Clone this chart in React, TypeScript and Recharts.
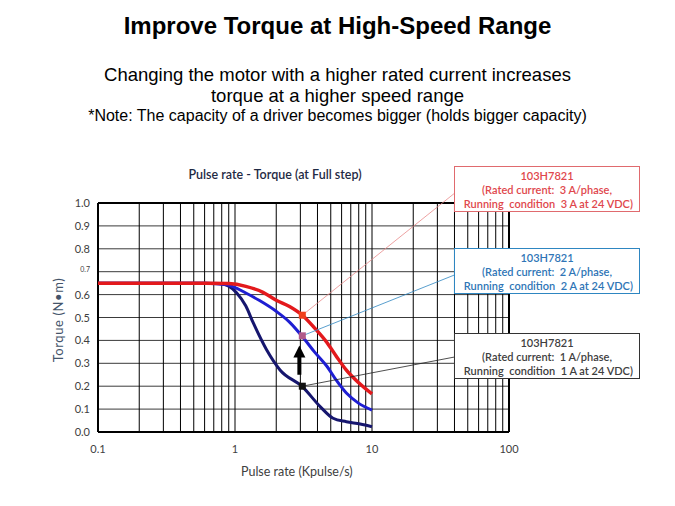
import { ComposedChart, Line, XAxis, YAxis, ReferenceLine, ReferenceDot } from 'recharts';

// axis ticks and grid values
const xTicks = [0.1, 1, 10, 100];
const yTicks = [0, 0.1, 0.2, 0.3, 0.4, 0.5, 0.6, 0.7, 0.8, 0.9, 1.0];
const xMinorGrid = [0.2, 0.3, 0.4, 0.5, 0.6, 0.7, 0.8, 0.9, 1, 2, 3, 4, 5, 6, 7, 8, 9, 10, 20, 30, 40, 50, 60, 70, 80, 90];
const yGrid = [0.1, 0.2, 0.3, 0.4, 0.5, 0.6, 0.7, 0.8, 0.9];

// pulse rate (kpulse/s) vs torque (N·m)
const torque3A = [
  { x: 0.1, y: 0.65 }, { x: 0.3, y: 0.65 }, { x: 0.6, y: 0.65 }, { x: 0.9, y: 0.648 },
  { x: 1.2, y: 0.636 }, { x: 1.6, y: 0.61 }, { x: 2.0, y: 0.575 }, { x: 2.5, y: 0.548 },
  { x: 3.1, y: 0.51 }, { x: 3.8, y: 0.455 }, { x: 4.7, y: 0.39 }, { x: 5.5, y: 0.33 },
  { x: 6.5, y: 0.27 }, { x: 8, y: 0.215 }, { x: 10, y: 0.166 },
];
const torque2A = [
  { x: 0.1, y: 0.65 }, { x: 0.3, y: 0.65 }, { x: 0.6, y: 0.65 }, { x: 0.87, y: 0.643 },
  { x: 1.2, y: 0.607 }, { x: 1.5, y: 0.575 }, { x: 2.0, y: 0.527 }, { x: 2.5, y: 0.48 },
  { x: 3.1, y: 0.417 }, { x: 3.8, y: 0.35 }, { x: 4.7, y: 0.286 }, { x: 5.5, y: 0.225 },
  { x: 6.5, y: 0.17 }, { x: 8, y: 0.125 }, { x: 10, y: 0.096 },
];
const torque1A = [
  { x: 0.1, y: 0.65 }, { x: 0.3, y: 0.65 }, { x: 0.6, y: 0.65 }, { x: 0.78, y: 0.648 },
  { x: 1.03, y: 0.607 }, { x: 1.2, y: 0.55 }, { x: 1.36, y: 0.476 }, { x: 1.7, y: 0.359 },
  { x: 2.13, y: 0.271 }, { x: 3.1, y: 0.198 }, { x: 4.2, y: 0.11 }, { x: 5.2, y: 0.06 },
  { x: 6.5, y: 0.045 }, { x: 8.2, y: 0.035 }, { x: 10, y: 0.023 },
];

const markers = [
  { x: 3.1, y: 0.51, fill: '#f0401c' },
  { x: 3.1, y: 0.42, fill: '#b05a8a' },
  { x: 3.1, y: 0.2, fill: '#111111' },
];

const leaders = [
  { from: { x: 3.1, y: 0.51 }, to: { x: 40.5, y: 1.045 }, stroke: '#e88a8a' },
  { from: { x: 3.1, y: 0.42 }, to: { x: 40.5, y: 0.687 }, stroke: '#2e86c1' },
  { from: { x: 3.1, y: 0.2 }, to: { x: 40.5, y: 0.328 }, stroke: '#222222' },
];

const boxes = [
  { top: 166, current: 3, color: '#e0474c', border: '#e06a6e' },
  { top: 248, current: 2, color: '#2e75b6', border: '#2e86c1' },
  { top: 333, current: 1, color: '#404040', border: '#333333' },
];

const YTick = ({ x, y, payload }: any) => (
  <text x={x} y={y} dy={payload.value === 0.7 ? 0 : 4} textAnchor="end"
    fontSize={payload.value === 0.7 ? 7 : 11} fill="#404040" fontFamily="Lato, sans-serif">
    {payload.value.toFixed(1)}
  </text>
);

const XTick = ({ x, y, payload }: any) => (
  <text x={x} y={y} dy={13} textAnchor="middle" fontSize={11} fill="#404040" fontFamily="Lato, sans-serif">
    {payload.value}
  </text>
);

const Square = ({ cx, cy, color }: any) => <rect x={cx - 3.5} y={cy - 3.5} width={7} height={7} fill={color} />;

const ArrowHead = ({ cx, cy }: any) => (
  <polygon points={`${cx},${cy} ${cx - 6},${cy + 12} ${cx + 6},${cy + 12}`} fill="#000" />
);

export default function App() {
  return (
    <div style={{ position: 'absolute', left: 0, top: 0, width: 675, height: 506, background: '#fff', fontFamily: '"Liberation Sans", Arial, sans-serif', color: '#000' }}>
      <div style={{ position: 'absolute', top: 12, width: 675, textAlign: 'center', fontSize: 24, fontWeight: 'bold' }}>
        Improve Torque at High-Speed Range
      </div>
      <div style={{ position: 'absolute', top: 64, width: 675, textAlign: 'center', fontSize: 18.5, lineHeight: '21px' }}>
        Changing the motor with a higher rated current increases<br />torque at a higher speed range
      </div>
      <div style={{ position: 'absolute', top: 107, width: 675, textAlign: 'center', fontSize: 16 }}>
        *Note: The capacity of a driver becomes bigger (holds bigger capacity)
      </div>
      <div style={{ position: 'absolute', top: 167, left: 98, width: 354, textAlign: 'center', fontSize: 12.5, fontWeight: 600, color: '#1f2a44', fontFamily: 'Lato, sans-serif' }}>
        Pulse rate - Torque (at Full step)
      </div>

      <ComposedChart width={675} height={506} margin={{ top: 203, right: 166, bottom: 44, left: 58 }}>
        <XAxis dataKey="x" type="number" scale="log" domain={[0.1, 100]} ticks={xTicks} interval={0} allowDataOverflow
          axisLine={false} tickLine={false} tick={<XTick />} height={30} />
        <YAxis type="number" domain={[0, 1]} ticks={yTicks} interval={0} allowDataOverflow
          axisLine={false} tickLine={false} tick={<YTick />} width={40} />
        {yGrid.map((v) => (
          <ReferenceLine key={'h' + v} y={v} stroke="#3a3a3a" strokeWidth={1} />
        ))}
        {xMinorGrid.map((v) => (
          <ReferenceLine key={'v' + v} x={v} stroke="#000" strokeWidth={1} />
        ))}
        <ReferenceLine x={0.1} stroke="#000" strokeWidth={2} />
        <ReferenceLine x={100} stroke="#000" strokeWidth={2} />
        <ReferenceLine y={0} stroke="#000" strokeWidth={2} />
        <ReferenceLine y={1} stroke="#000" strokeWidth={2} />
        <Line data={torque1A} dataKey="y" type="monotone" stroke="#16166e" strokeWidth={3} dot={false} isAnimationActive={false} />
        <Line data={torque2A} dataKey="y" type="monotone" stroke="#1e1ed2" strokeWidth={3} dot={false} isAnimationActive={false} />
        <Line data={torque3A} dataKey="y" type="monotone" stroke="#e3191c" strokeWidth={3.5} dot={false} isAnimationActive={false} />
        {leaders.map((l, i) => (
          <ReferenceLine key={'l' + i} segment={[l.from, l.to]} stroke={l.stroke} strokeWidth={0.8} ifOverflow="visible" />
        ))}
        {markers.map((m, i) => (
          <ReferenceDot key={'m' + i} x={m.x} y={m.y} r={4} fill={m.fill} stroke="none" shape={<Square color={m.fill} />} ifOverflow="visible" />
        ))}
        <ReferenceLine segment={[{ x: 2.95, y: 0.25 }, { x: 2.95, y: 0.335 }]} stroke="#000" strokeWidth={4} />
        <ReferenceDot x={2.95} y={0.378} r={6} fill="#000" stroke="none" shape={<ArrowHead />} />
      </ComposedChart>

      <div style={{ position: 'absolute', left: 241, top: 464, fontSize: 12.5, color: '#404040', fontFamily: 'Lato, sans-serif' }}>
        Pulse rate (Kpulse/s)
      </div>
      <div style={{ position: 'absolute', left: 58, top: 320, fontSize: 13, letterSpacing: 0.6, color: '#44546a', fontFamily: 'Lato, sans-serif', transform: 'translate(-50%, -50%) rotate(-90deg)', whiteSpace: 'nowrap' }}>
        Torque (N•m)
      </div>

      {boxes.map((b) => (
        <div key={b.current} style={{ position: 'absolute', left: 454, top: b.top, width: 186, height: 46, background: '#fff', border: `1px solid ${b.border}`, color: b.color, fontFamily: 'Lato, sans-serif', fontSize: 11, fontWeight: 600, lineHeight: '14px', textAlign: 'center', paddingTop: 2, boxSizing: 'border-box' }}>
          103H7821<br />
          (Rated current:&nbsp; {b.current} A/phase,<br />
          &nbsp;Running&nbsp; condition&nbsp; {b.current} A at 24 VDC)
        </div>
      ))}
    </div>
  );
}
